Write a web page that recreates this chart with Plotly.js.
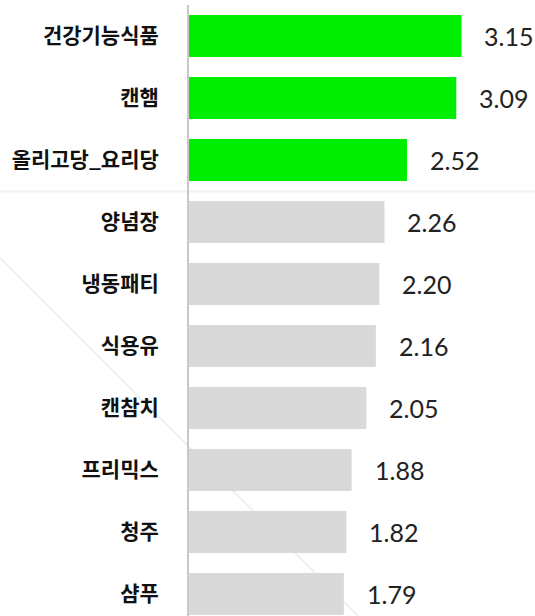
<!DOCTYPE html>
<html>
<head>
<meta charset="utf-8">
<script src="https://cdn.plot.ly/plotly-3.0.1.min.js"></script>
<style>html,body{margin:0;padding:0;background:#fff;}#chart{width:535px;height:616px;}</style>
</head>
<body>
<div id="chart"></div>
<script>
const categories = ["건강기능식품", "캔햄", "올리고당_요리당", "양념장", "냉동패티", "식용유", "캔참치", "프리믹스", "청주", "샴푸"];
const values = [3.15, 3.09, 2.52, 2.26, 2.20, 2.16, 2.05, 1.88, 1.82, 1.79];
const highlighted = [true, true, true, false, false, false, false, false, false, false];

const colors = highlighted.map(h => h ? "#00ee00" : "#d9d9d9");

const trace = {
  type: "bar",
  orientation: "h",
  x: values,
  y: categories,
  marker: {color: colors, line: {width: 0}},
  hoverinfo: "none"
};

const annotations = values.map((v, i) => ({
  x: v, y: categories[i], xref: "x", yref: "y",
  text: v.toFixed(2), showarrow: false,
  xanchor: "left", yanchor: "middle", xshift: 21, yshift: 0,
  font: {family: "Lato, 'Open Sans', sans-serif", size: 25, color: "#222"}
}));

const H = 611;
const py = y => 1 - (y - 5) / H;
const px = x => (x - 189) / 346;

const layout = {
  width: 535, height: 616,
  margin: {l: 189, r: 0, t: 5, b: 0},
  paper_bgcolor: "#fff", plot_bgcolor: "rgba(0,0,0,0)",
  bargap: 0.323,
  showlegend: false,
  xaxis: {range: [0, 4], showgrid: false, zeroline: false, showticklabels: false, showline: false, ticks: ""},
  yaxis: {
    type: "category",
    range: [9.355, -0.5],
    showgrid: false, zeroline: false,
    showline: true, linecolor: "#c8c8c8", linewidth: 2,
    ticks: "", ticklabelstandoff: 24,
    tickfont: {family: "'Noto Sans CJK KR', sans-serif", size: 21, color: "#111", weight: "bold"}
  },
  shapes: [
    {type: "line", xref: "paper", yref: "paper", x0: px(0), x1: 1, y0: py(191.5), y1: py(191.5),
     line: {color: "#f2f2f2", width: 2}, layer: "below"},
    {type: "line", xref: "paper", yref: "paper", x0: px(0), x1: px(358), y0: py(258), y1: py(616),
     line: {color: "#f0f0f0", width: 2}, layer: "below"}
  ],
  annotations: annotations
};

Plotly.newPlot("chart", [trace], layout, {staticPlot: true, displayModeBar: false});
</script>
</body>
</html>
